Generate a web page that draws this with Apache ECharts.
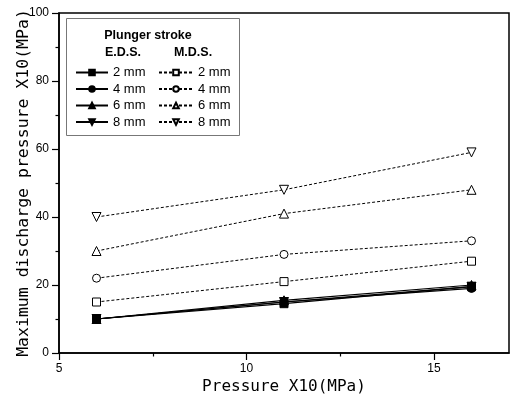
<!DOCTYPE html>
<html><head><meta charset="utf-8">
<script src="https://cdn.jsdelivr.net/npm/echarts@6/dist/echarts.min.js"></script>
<style>html,body{margin:0;padding:0;background:#fff}#c{width:510px;height:403px}</style>
</head><body><div id="c"></div>
<script>
const pressure = [6, 11, 16];
const eds2 = [10, 14.5, 19.5];
const eds4 = [10, 15, 19];
const eds6 = [10, 15.5, 20];
const eds8 = [10, 15, 19.5];
const mds2 = [15, 21, 27];
const mds4 = [22, 29, 33];
const mds6 = [30, 41, 48];
const mds8 = [40, 48, 59];
const labels = ['2 mm', '4 mm', '6 mm', '8 mm'];
const xMajor = [5, 10, 15];
const xMinor = [7.5, 12.5];

const downTri = 'path://M0,0 L10,0 L5,8.66 Z';
const upTri = 'path://M5,0 L10,8.66 L0,8.66 Z';
const symbols = ['rect', 'circle', upTri, downTri];
const edsData = [eds2, eds4, eds6, eds8];
const mdsData = [mds2, mds4, mds6, mds8];

function pts(arr) { return arr.map((v, i) => [pressure[i], v]); }

const series = [];
edsData.forEach((d, i) => {
  series.push({
    name: 'E' + labels[i], type: 'line', data: pts(d), symbol: symbols[i], symbolSize: i >= 2 ? 9 : 8,
    lineStyle: { color: '#000', width: 1.2, type: 'solid' },
    itemStyle: { color: '#000', borderColor: '#000', borderWidth: 1 }, z: 3
  });
});
mdsData.forEach((d, i) => {
  series.push({
    name: 'M' + labels[i], type: 'line', data: pts(d), symbol: symbols[i], symbolSize: i >= 2 ? 9 : 8,
    lineStyle: { color: '#000', width: 1, type: [3, 2] },
    itemStyle: { color: '#fff', borderColor: '#000', borderWidth: 1 }, z: 2
  });
});

const chart = echarts.init(document.getElementById('c'));
const legendText = { fontFamily: 'Liberation Sans, Arial', fontSize: 13, color: '#000' };
chart.setOption({
  animation: false,
  backgroundColor: '#fff',
  grid: { left: 59, right: 1, top: 13, bottom: 50, show: true, borderColor: '#000', borderWidth: 1.5, outerBoundsMode: 'none', containLabel: false },
  xAxis: [{
    type: 'value', min: 5, max: 17,
    name: 'Pressure X10(MPa)', nameLocation: 'middle', nameGap: 26, nameMoveOverlap: false,
    nameTextStyle: { fontFamily: 'DejaVu Sans Mono', fontSize: 16, color: '#000' },
    axisLine: { lineStyle: { color: '#000', width: 1.5 } },
    axisTick: { customValues: xMajor, length: 7, lineStyle: { color: '#000', width: 1.2 } },
    axisLabel: { customValues: xMajor, color: '#000', fontFamily: 'Liberation Sans, Arial', fontSize: 12, margin: 10 },
    splitLine: { show: false }
  }, {
    type: 'value', min: 5, max: 17, position: 'bottom',
    axisLine: { show: false },
    axisTick: { customValues: xMinor, length: 3.5, lineStyle: { color: '#000', width: 1.2 } },
    axisLabel: { show: false }, splitLine: { show: false }
  }],
  yAxis: {
    type: 'value', min: 0, max: 100, interval: 20,
    name: 'Maximum discharge pressure X10(MPa)', nameLocation: 'middle', nameGap: 27, nameMoveOverlap: false,
    nameTextStyle: { fontFamily: 'DejaVu Sans Mono', fontSize: 16.5, color: '#000' },
    axisLine: { lineStyle: { color: '#000', width: 1.5 } },
    axisTick: { length: 7, lineStyle: { color: '#000', width: 1.2 } },
    minorTick: { show: true, splitNumber: 2, length: 3.5, lineStyle: { color: '#000', width: 1.2 } },
    axisLabel: { color: '#000', fontFamily: 'Liberation Sans, Arial', fontSize: 12, margin: 10 },
    splitLine: { show: false }
  },
  legend: [{
    orient: 'vertical', left: 75, top: 66, padding: 0, itemWidth: 32, itemHeight: 7, itemGap: 3.5, z: 20,
    data: labels.map(l => 'E' + l), formatter: n => n.slice(1), textStyle: legendText,
    selectedMode: false
  }, {
    orient: 'vertical', left: 158, top: 66, padding: 0, itemWidth: 34, itemHeight: 7, itemGap: 3.5, z: 20,
    data: labels.map(l => 'M' + l), formatter: n => n.slice(1), textStyle: legendText,
    selectedMode: false
  }],
  graphic: [
    { type: 'rect', shape: { x: 66.5, y: 18.5, width: 173, height: 117 }, style: { fill: '#fff', stroke: '#777', lineWidth: 1 }, z: 10, silent: true },
    { type: 'text', x: 148, y: 36, style: { text: 'Plunger stroke', fontFamily: 'Liberation Sans, Arial', fontWeight: 'bold', fontSize: 12.5, fill: '#000', align: 'center', verticalAlign: 'middle' }, z: 11 },
    { type: 'text', x: 123, y: 53, style: { text: 'E.D.S.', fontFamily: 'Liberation Sans, Arial', fontWeight: 'bold', fontSize: 12.5, fill: '#000', align: 'center', verticalAlign: 'middle' }, z: 11 },
    { type: 'text', x: 193, y: 53, style: { text: 'M.D.S.', fontFamily: 'Liberation Sans, Arial', fontWeight: 'bold', fontSize: 12.5, fill: '#000', align: 'center', verticalAlign: 'middle' }, z: 11 }
  ],
  series: series
});
</script></body></html>
